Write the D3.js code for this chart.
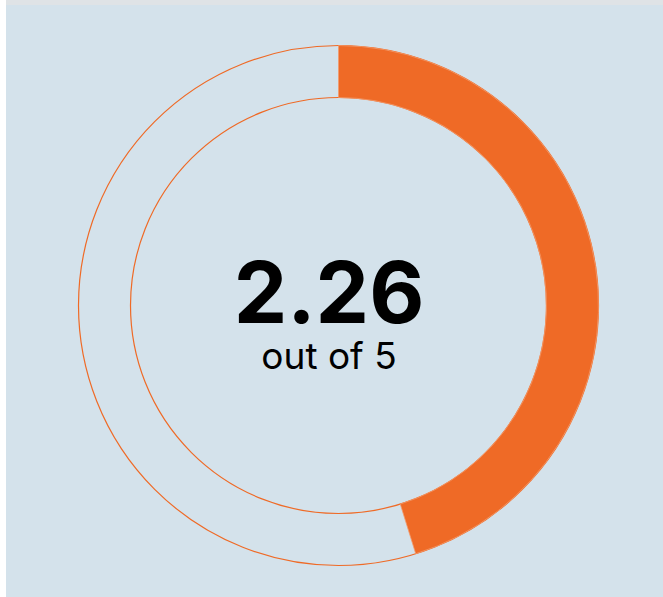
<!DOCTYPE html>
<html>
<head>
<meta charset="utf-8">
<script src="https://cdn.jsdelivr.net/npm/d3@7"></script>
<style>
  body { margin: 0; background: #fff; }
  svg { display: block; }
</style>
</head>
<body>
<script>
"use strict";
(function(){
    const score = [2.26];
    const maxScore = [5];
    const subLabel = ["out of 5"];

    const measurements = {
        width: 663,
        height: 597,
        cx: 338.5,
        cy: 305.5,
        outer: 260,
        inner: 208,
        textX: -9.5
    }

    const svg = d3.select("body").append("svg")
        .attr("width", measurements.width)
        .attr("height", measurements.height);

    svg.append("rect")
        .attr("x", 6).attr("y", 0)
        .attr("width", measurements.width - 6).attr("height", 5)
        .attr("fill", "#dfe3e6");

    svg.append("rect")
        .attr("x", 6).attr("y", 5)
        .attr("width", measurements.width - 6)
        .attr("height", measurements.height - 5)
        .attr("fill", "#d4e2eb");

    const g = svg.append("g")
        .attr("transform", `translate(${measurements.cx},${measurements.cy})`);

    // angle scale: 0..max -> 0..2pi
    const angle = d3.scaleLinear()
        .domain([0, maxScore[0]])
        .range([0, 2 * Math.PI]);

    const arc = d3.arc()
        .innerRadius(measurements.inner)
        .outerRadius(measurements.outer);

    // track
    g.append("path")
        .attr("d", arc({startAngle: 0, endAngle: angle(maxScore[0])}))
        .attr("fill", "none")
        .attr("stroke", "#ef6a26")
        .attr("stroke-width", 1.2);

    // value
    g.selectAll("path.value")
        .data(score)
        .enter()
        .append("path")
        .attr("class", "value")
        .attr("d", (d) => arc({startAngle: 0, endAngle: angle(d)}))
        .attr("fill", "#ef6a26")
        .attr("stroke", "#f39a6c")
        .attr("stroke-width", 0.8);

    g.append("text")
        .attr("x", measurements.textX).attr("y", 17)
        .attr("text-anchor", "middle")
        .style("font-family", "Inter, 'Noto Sans', sans-serif")
        .style("font-weight", 700)
        .style("font-size", "85px")
        .style("fill", "#000")
        .text(d3.format(".2f")(score[0]));

    g.append("text")
        .attr("x", measurements.textX).attr("y", 63.5)
        .attr("text-anchor", "middle")
        .style("font-family", "Inter, 'Noto Sans', sans-serif")
        .style("font-size", "37px")
        .style("fill", "#000")
        .text(subLabel[0]);
})()
</script>
</body>
</html>
